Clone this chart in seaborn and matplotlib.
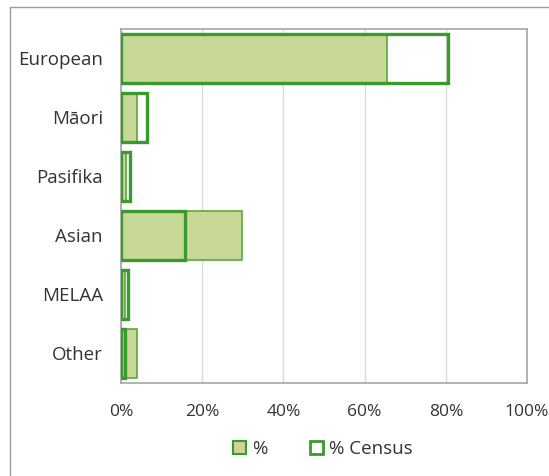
import seaborn as sns
import matplotlib.pyplot as plt
import pandas as pd
from matplotlib.patches import Patch
from matplotlib.lines import Line2D
from matplotlib.ticker import FixedLocator, PercentFormatter

# data
groups = ["European", "Māori", "Pasifika", "Asian", "MELAA", "Other"]
pct = [65.5, 4.0, 1.2, 29.9, 1.1, 4.0]
census = [80.5, 6.3, 2.1, 15.8, 1.8, 1.0]
xticks = [0, 20, 40, 60, 80, 100]

fill_col = "#c8d896"
line_col = "#3a9a2e"
text_col = "#333333"

df = pd.DataFrame({"group": groups, "pct": pct, "census": census})

sns.set_style("white")
plt.rcParams["font.family"] = ["Open Sans", "DejaVu Sans"]

fig = plt.figure(figsize=(5.49, 4.76), dpi=100)
ax = fig.add_axes([0.2204, 0.1954, 0.7396, 0.7437])

sns.barplot(data=df, x="pct", y="group", color=fill_col, saturation=1,
            edgecolor="#5aa83f", linewidth=1.2, width=0.83, ax=ax, zorder=2)
sns.barplot(data=df, x="census", y="group", fill=False, color=line_col,
            saturation=1, linewidth=2.4, width=0.83, ax=ax, zorder=3)

ax.set_xlim(0, 100)
ax.set_ylim(5.5, -0.5)
ax.set_xticks(xticks)
ax.xaxis.set_major_formatter(PercentFormatter(decimals=0))
ax.grid(axis="x", color="#d9d9d9", linewidth=1, zorder=0)
ax.set_axisbelow(True)
ax.set_xlabel("")
ax.set_ylabel("")

ax.tick_params(axis="x", length=0, pad=15, labelsize=12.5, labelcolor=text_col)
ax.tick_params(axis="y", which="major", length=0, pad=13, labelsize=13.5,
               labelcolor=text_col)
ax.yaxis.set_minor_locator(FixedLocator([i - 0.5 for i in range(len(groups) + 1)]))
ax.tick_params(axis="y", which="minor", length=6, width=1.2, color="#a6a6a6")

for s in ax.spines.values():
    s.set_color("#a6a6a6")
    s.set_linewidth(1.2)

handles = [Patch(facecolor=fill_col, edgecolor=line_col, linewidth=1.5, label="%"),
           Patch(facecolor="white", edgecolor=line_col, linewidth=2, label="% Census")]
fig.legend(handles=handles, loc="center", bbox_to_anchor=(0.588, 0.056), ncol=2,
           frameon=False, fontsize=13.5, handlelength=0.7, handleheight=0.7,
           handletextpad=0.3, columnspacing=2.3, labelcolor=text_col)

# outer frame lines (left and top)
fig.add_artist(Line2D([10 / 549, 10 / 549], [0, 1 - 7 / 476], transform=fig.transFigure,
                      color="#9a9a9a", linewidth=1))
fig.add_artist(Line2D([10 / 549, 1], [1 - 7 / 476, 1 - 7 / 476], transform=fig.transFigure,
                      color="#9a9a9a", linewidth=1))

fig.savefig("out.png", dpi=100)
